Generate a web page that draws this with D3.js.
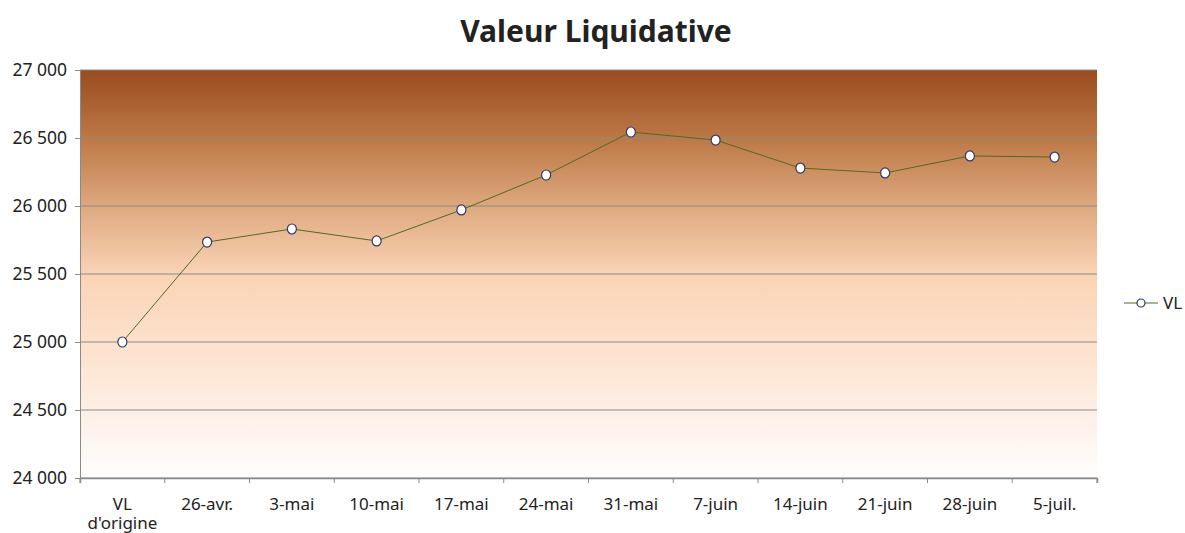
<!DOCTYPE html>
<html>
<head>
<meta charset="utf-8">
<script src="https://cdn.jsdelivr.net/npm/d3@7"></script>
<style>
  body { margin: 0; background: #fff; }
  text { font-family: "Noto Sans", "DejaVu Sans", sans-serif; fill: #222; }
</style>
</head>
<body>
<svg id="chart" width="1185" height="533"></svg>
<script>
'use strict';

// categories (x axis)
const dates = ["VL\nd'origine", "26-avr.", "3-mai", "10-mai", "17-mai", "24-mai",
  "31-mai", "7-juin", "14-juin", "21-juin", "28-juin", "5-juil."];

// net asset value
const vl = [25000, 25735, 25831, 25743, 25971, 26228, 26544, 26485, 26279, 26243, 26368, 26360];

const yTicks = [24000, 24500, 25000, 25500, 26000, 26500, 27000];

const svg = d3.select("#chart");
const margin = {top: 70, right: 88, bottom: 55, left: 80};
const width = 1185 - margin.left - margin.right;
const height = 533 - margin.top - margin.bottom;

const x = d3.scaleBand().domain(d3.range(dates.length)).range([0, width]);
const y = d3.scaleLinear().domain([24000, 27000]).range([height, 0]);

// background gradient
const defs = svg.append("defs");
const grad = defs.append("linearGradient")
  .attr("id", "bg").attr("x1", 0).attr("y1", 0).attr("x2", 0).attr("y2", 1);
[[0, "#9a4b1f"], [0.17, "#bd7946"], [0.34, "#dfaa80"], [0.5, "#fad3b5"],
 [0.68, "#fde2cd"], [0.85, "#fdf0e7"], [1, "#fffefd"]].forEach(function (s) {
  grad.append("stop").attr("offset", s[0]).attr("stop-color", s[1]);
});

svg.append("text")
  .attr("x", 596).attr("y", 42)
  .attr("text-anchor", "middle")
  .style("font-size", "30px").style("font-weight", "bold")
  .style("fill", "#222")
  .text("Valeur Liquidative");

const g = svg.append("g").attr("transform", "translate(" + margin.left + "," + margin.top + ")");

g.append("rect").attr("width", width).attr("height", height).attr("fill", "url(#bg)");

// gridlines
g.selectAll(".grid").data(yTicks).enter().append("line")
  .attr("x1", 0).attr("x2", width)
  .attr("y1", d => y(d)).attr("y2", d => y(d))
  .attr("stroke", "#8a8a8a").attr("stroke-width", 1);

// y axis
const yAxis = g.append("g").call(d3.axisLeft(y).tickValues(yTicks).tickSize(5).tickPadding(8)
  .tickFormat(d => d3.format(",")(d).replace(",", " ")));
yAxis.select(".domain").attr("stroke", "#8a8a8a");
yAxis.selectAll(".tick line").attr("stroke", "#8a8a8a");
yAxis.selectAll("text").style("font-size", "17.5px").style("fill", "#222");

// x axis
const xAxis = g.append("g").attr("transform", "translate(0," + height + ")")
  .call(d3.axisBottom(x).tickSize(5).tickFormat(""));
xAxis.select(".domain").attr("stroke", "#8a8a8a").attr("stroke-width", 1.5);
// ticks at category boundaries
xAxis.selectAll(".tick line").attr("stroke", "#8a8a8a")
  .attr("transform", "translate(" + (-x.bandwidth() / 2) + ",0)");
xAxis.append("line").attr("x1", width).attr("x2", width).attr("y1", 0).attr("y2", 5).attr("stroke", "#8a8a8a");

// labels, one text per line
xAxis.selectAll(".tick").each(function (d, i) {
  const tick = d3.select(this);
  dates[i].split("\n").forEach(function (line, j) {
    tick.append("text").attr("x", 0).attr("y", 32 + j * 19)
      .attr("text-anchor", "middle")
      .style("font-size", "17px").style("fill", "#222")
      .text(line);
  });
});

// line
const cx = i => x(i) + x.bandwidth() / 2;
g.append("path").datum(vl)
  .attr("fill", "none").attr("stroke", "#4f6b22").attr("stroke-width", 1)
  .attr("d", d3.line().x((d, i) => cx(i)).y(d => y(d)));

g.selectAll(".pt").data(vl).enter().append("ellipse")
  .attr("cx", (d, i) => cx(i)).attr("cy", d => y(d))
  .attr("rx", 4.5).attr("ry", 5)
  .attr("fill", "#fff").attr("stroke", "#2e3a6e").attr("stroke-width", 1.2);

// legend
const lg = svg.append("g").attr("transform", "translate(1124,303)");
lg.append("line").attr("x1", 0).attr("x2", 34).attr("stroke", "#4f6b22").attr("stroke-width", 1);
lg.append("circle").attr("cx", 17).attr("r", 4).attr("fill", "#fff").attr("stroke", "#2e3a6e").attr("stroke-width", 1.2);
lg.append("text").attr("x", 39).attr("y", 6).style("font-size", "17px").text("VL");
</script>
</body>
</html>
